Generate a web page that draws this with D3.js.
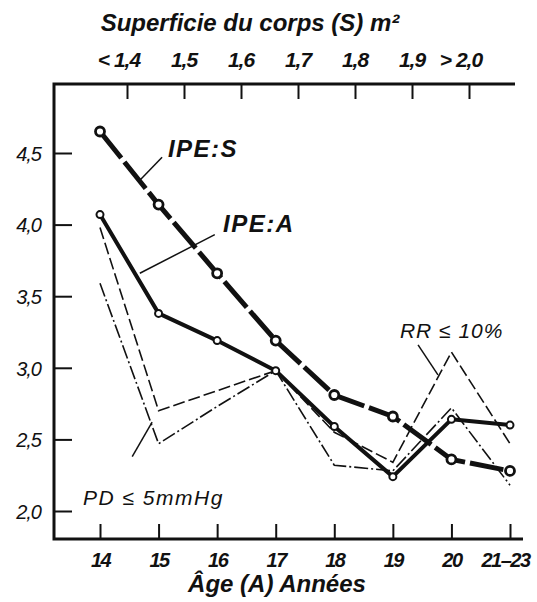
<!DOCTYPE html>
<html>
<head>
<meta charset="utf-8">
<script src="https://cdn.jsdelivr.net/npm/d3@7"></script>
<style>
	body { margin: 0; background: #fff; }
	text { font-family: "Liberation Sans", Arial, sans-serif; font-style: italic; fill: #111; }
</style>
</head>
<body>
<div id="chart"></div>
<script>
// values
const ages      = ['14', '15', '16', '17', '18', '19', '20', '21–23'];
const surface   = ['<1,4', '1,5', '1,6', '1,7', '1,8', '1,9', '>2,0'];
const yTicks    = [2.0, 2.5, 3.0, 3.5, 4.0, 4.5];
const ipeS      = [4.65, 4.14, 3.66, 3.19, 2.81, 2.66, 2.36, 2.28];
const ipeA      = [4.07, 3.38, 3.19, 2.98, 2.59, 2.24, 2.64, 2.60];
const rrSeries  = [3.98, 2.70, 2.84, 2.98, 2.55, 2.34, 3.11, 2.47];
const pdSeries  = [3.59, 2.47, 2.73, 2.98, 2.32, 2.28, 2.72, 2.18];

let full_width  = 537,
	full_height = 602,
	frame       = {left: 54, right: 523, top: 84, bottom: 539};

let svg = d3.select('#chart')
	.append('svg')
	.attr('width', full_width)
	.attr('height', full_height);

// x by position in the age list, so notes can sit between ticks
let x = d3.scaleLinear()
	.domain([0, ages.length - 1])
	.range([100, 510]);

let y = d3.scaleLinear()
	.domain([2, 4.5])
	.range([511, 153]);

let xTop = d3.scalePoint()
	.domain(surface)
	.range([127, 469]);

let fmt = d3.format('.1f');

// frame
svg.append('path')
	.attr('d', 'M' + frame.right + ',' + frame.bottom + 'H' + frame.left + 'V' + frame.top + 'H515')
	.attr('fill', 'none')
	.attr('stroke', '#111')
	.attr('stroke-width', 3);

// left axis
let gy = svg.append('g')
	.attr('transform', 'translate(' + frame.left + ',0)')
	.call(d3.axisLeft(y).tickValues(yTicks).tickSize(-18)
		.tickFormat(function(d) { return fmt(d).replace('.', ','); }));
gy.select('.domain').remove();
gy.selectAll('line').attr('stroke', '#111').attr('stroke-width', 2);
gy.selectAll('text')
	.attr('font-size', 20)
	.attr('font-family', null)
	.attr('text-anchor', 'end')
	.attr('x', -13)
	.attr('dy', '0.36em')
	.style('letter-spacing', '-1px');

// bottom axis
let gx = svg.append('g')
	.attr('transform', 'translate(0,' + frame.bottom + ')')
	.call(d3.axisBottom(x).ticks(ages.length).tickSize(-15).tickPadding(14)
		.tickFormat(function(d) { return ages[d]; }));
gx.select('.domain').remove();
gx.selectAll('line').attr('stroke', '#111').attr('stroke-width', 2);
gx.selectAll('text')
	.attr('font-size', 20)
	.attr('font-weight', 'bold')
	.attr('font-family', null)
	.style('letter-spacing', '-1.5px');
gx.selectAll('.tick:last-of-type text').attr('dx', -5);

// top axis (body surface)
let gt = svg.append('g')
	.attr('transform', 'translate(0,' + frame.top + ')')
	.call(d3.axisTop(xTop).tickSize(-15).tickFormat(''));
gt.select('.domain').remove();
gt.selectAll('line').attr('stroke', '#111').attr('stroke-width', 2);

// the number sits on the tick, any < or > hangs to its left
surface.forEach(function(s) {
	let num = s.replace(/[<>]/, ''),
		pre = s.length > num.length ? s[0] : '';
	let t = svg.append('text')
		.attr('x', xTop(s))
		.attr('y', 67)
		.attr('text-anchor', 'middle')
		.attr('font-size', 21)
		.attr('font-weight', 'bold')
		.style('letter-spacing', '-1px')
		.text(num);
	if (pre) {
		let w = t.node().getComputedTextLength();
		svg.append('text')
			.attr('x', xTop(s) - w / 2 - 4)
			.attr('y', 67)
			.attr('text-anchor', 'end')
			.attr('font-size', 21)
			.attr('font-weight', 'bold')
			.text(pre);
	}
});

// axis titles
svg.append('text')
	.attr('x', 250).attr('y', 31)
	.attr('text-anchor', 'middle')
	.attr('font-size', 24)
	.attr('font-weight', 'bold')
	.text('Superficie du corps (S) m²');

svg.append('text')
	.attr('x', 277).attr('y', 592)
	.attr('text-anchor', 'middle')
	.attr('font-size', 24)
	.attr('font-weight', 'bold')
	.text('Âge (A) Années');

let line = d3.line()
	.x(function(d, i) { return x(i); })
	.y(function(d) { return y(d); });

// thin series
svg.append('path')
	.datum(rrSeries)
	.attr('fill', 'none')
	.attr('stroke', '#111')
	.attr('stroke-width', 1.6)
	.attr('stroke-dasharray', '12,4')
	.attr('d', line);

svg.append('path')
	.datum(pdSeries)
	.attr('fill', 'none')
	.attr('stroke', '#111')
	.attr('stroke-width', 1.6)
	.attr('stroke-dasharray', '14,3,2,3')
	.attr('d', line);

// IPE:A
svg.append('path')
	.datum(ipeA)
	.attr('fill', 'none')
	.attr('stroke', '#111')
	.attr('stroke-width', 4)
	.attr('stroke-linejoin', 'round')
	.attr('d', line);

svg.append('g').selectAll('circle')
	.data(ipeA)
	.join('circle')
	.attr('cx', function(d, i) { return x(i); })
	.attr('cy', function(d) { return y(d); })
	.attr('r', 3.5)
	.attr('fill', '#fff')
	.attr('stroke', '#111')
	.attr('stroke-width', 2);

// IPE:S
svg.append('path')
	.datum(ipeS)
	.attr('fill', 'none')
	.attr('stroke', '#111')
	.attr('stroke-width', 5)
	.attr('stroke-dasharray', '34,5')
	.attr('d', line);

svg.append('g').selectAll('circle')
	.data(ipeS)
	.join('circle')
	.attr('cx', function(d, i) { return x(i); })
	.attr('cy', function(d) { return y(d); })
	.attr('r', 4.5)
	.attr('fill', '#fff')
	.attr('stroke', '#111')
	.attr('stroke-width', 2.8);

// notes and their leader lines, in data units
let notes = [
	{text: 'IPE:S',      i: 1.16,  v: 4.47, bold: true,  size: 24, spacing: 1.5, from: [0.68, 4.31], to: [1.06, 4.47]},
	{text: 'IPE:A',      i: 2.10,  v: 3.95, bold: true,  size: 24, spacing: 1.5, from: [0.68, 3.66], to: [1.96, 3.93]},
	{text: 'RR ≤ 10%',   i: 5.12,  v: 3.21, bold: false, size: 21, spacing: 1,   from: [5.43, 3.16], to: [5.77, 2.95]},
	{text: 'PD ≤ 5mmHg', i: -0.29, v: 2.04, bold: false, size: 21, spacing: 1.5, from: [0.55, 2.38], to: [0.89, 2.62]}
];

notes.forEach(function(n) {
	svg.append('line')
		.attr('x1', x(n.from[0])).attr('y1', y(n.from[1]))
		.attr('x2', x(n.to[0])).attr('y2', y(n.to[1]))
		.attr('stroke', '#111')
		.attr('stroke-width', 1.5);
	svg.append('text')
		.attr('x', x(n.i))
		.attr('y', y(n.v))
		.attr('font-size', n.size)
		.attr('font-weight', n.bold ? 'bold' : 'normal')
		.style('letter-spacing', n.spacing + 'px')
		.text(n.text);
});
</script>
</body>
</html>
